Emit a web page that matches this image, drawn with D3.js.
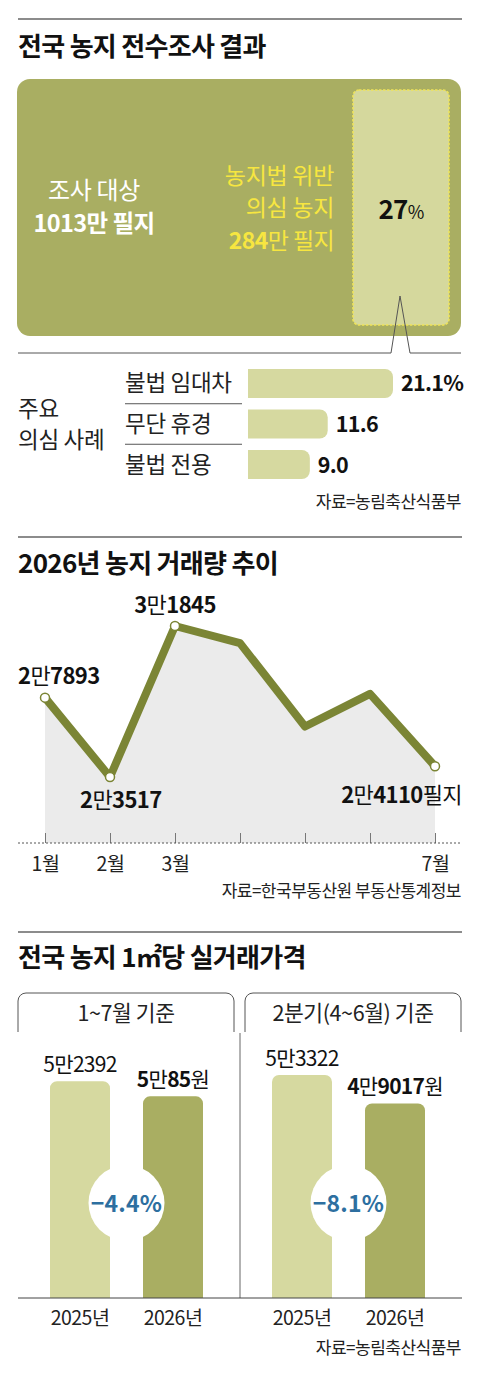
<!DOCTYPE html>
<html>
<head>
<meta charset="utf-8">
<script src="https://cdn.jsdelivr.net/npm/d3@7"></script>
<style>
  body { margin: 0; background: #fff; }
  svg { display: block; font-family: "Noto Sans CJK KR", "Noto Sans", sans-serif; }
  .title { font-size: 26px; font-weight: 700; fill: #111; letter-spacing: -0.7px; }
  .source { font-size: 17px; fill: #222; letter-spacing: -0.5px; }
  .axis text { font-family: "Noto Sans CJK KR", sans-serif; fill: #222; }
</style>
</head>
<body>
<div id="chart"></div>
<script>
// survey summary
const surveyTotal = 1013;      // 만 필지
const suspectTotal = 284;      // 만 필지
const suspectShare = 27;       // %

// main suspected cases (%)
const caseLabels = ["불법 임대차", "무단 휴경", "불법 전용"];
const caseValues = [21.1, 11.6, 9.0];

// 2026 monthly transactions (필지)
const months = ["1월", "2월", "3월", "4월", "5월", "6월", "7월"];
const volumes = [27893, 23517, 31845, 30900, 26300, 28100, 24110];
const labeledMonths = ["1월", "2월", "3월", "7월"];

// price per m2 (원)
const panelTitles = ["1~7월 기준", "2분기(4~6월) 기준"];
const years = ["2025년", "2026년"];
const prices = [[52392, 50085], [53322, 49017]];

const W = 480, H = 1376;
const left = 18, right = 462;
const olive = "#a9ae62", lightOlive = "#d6d9a0", lineColor = "#7b8535";

const svg = d3.select("#chart").append("svg")
    .attr("width", W)
    .attr("height", H);

function rule(y) {
    svg.append("line")
        .attr("x1", left).attr("x2", right)
        .attr("y1", y).attr("y2", y)
        .attr("stroke", "#666").attr("stroke-width", 1.5);
}

// split 27893 -> ["2", "7893"]
function man(v) {
    return [String(Math.floor(v / 10000)), String(v % 10000)];
}

function richText(g, parts) {
    // parts: [[text, bold], ...]
    parts.forEach(p => {
        g.append("tspan")
            .attr("font-weight", p[1] ? 700 : 400)
            .text(p[0]);
    });
    return g;
}

// ================= SECTION 1 =================
rule(19);
svg.append("text").attr("class", "title")
    .attr("x", left).attr("y", 56)
    .text("전국 농지 전수조사 결과");

// big box
svg.append("rect")
    .attr("x", 17).attr("y", 79)
    .attr("width", 444).attr("height", 257)
    .attr("rx", 13)
    .attr("fill", olive);

svg.append("rect")
    .attr("x", 353).attr("y", 90)
    .attr("width", 96).attr("height", 235)
    .attr("rx", 6)
    .attr("fill", "#d5d89d")
    .attr("stroke", "#efe45a")
    .attr("stroke-width", 1.6)
    .attr("stroke-dasharray", "2.5,1.5");

svg.append("text")
    .attr("x", 94).attr("y", 199)
    .attr("text-anchor", "middle")
    .attr("fill", "#fff").attr("font-size", 24)
    .attr("letter-spacing", -0.3)
    .text("조사 대상");
svg.append("text")
    .attr("x", 94).attr("y", 232)
    .attr("text-anchor", "middle")
    .attr("fill", "#fff").attr("font-size", 23.5).attr("font-weight", 700)
    .attr("letter-spacing", -0.6)
    .text(surveyTotal + "만 필지");

const yellow = "#f7e640";
svg.append("text")
    .attr("x", 334).attr("y", 184)
    .attr("text-anchor", "end")
    .attr("fill", yellow).attr("font-size", 23)
    .attr("letter-spacing", -0.3)
    .text("농지법 위반");
svg.append("text")
    .attr("x", 334).attr("y", 216)
    .attr("text-anchor", "end")
    .attr("fill", yellow).attr("font-size", 23)
    .attr("letter-spacing", -0.3)
    .text("의심 농지");
richText(svg.append("text")
    .attr("x", 334).attr("y", 249)
    .attr("text-anchor", "end")
    .attr("fill", yellow).attr("font-size", 23)
    .attr("letter-spacing", -0.6),
    [[String(suspectTotal), true], ["만 필지", false]]);

richText(svg.append("text")
    .attr("x", 401).attr("y", 219)
    .attr("text-anchor", "middle")
    .attr("fill", "#111").attr("font-size", 26)
    .attr("letter-spacing", -0.8),
    [[String(suspectShare), true]])
    .append("tspan").attr("font-size", 18).text("%");

// pointer
svg.append("path")
    .attr("d", "M18,353H391L400,296L410,353H461")
    .attr("fill", "none")
    .attr("stroke", "#555")
    .attr("stroke-width", 1);

// case bars
const xCase = d3.scaleLinear()
    .domain([0, d3.max(caseValues)])
    .range([248, 393]);
const yCase = d3.scaleBand()
    .domain(caseLabels)
    .range([369, 479])
    .paddingInner(0.284);

function rightRounded(x, y, w, h, r) {
    return `M${x},${y}H${x + w - r}A${r},${r} 0 0 1 ${x + w},${y + r}V${y + h - r}A${r},${r} 0 0 1 ${x + w - r},${y + h}H${x}Z`;
}

svg.append("g")
    .selectAll("path")
    .data(caseValues)
    .join("path")
    .attr("d", (d, i) => rightRounded(xCase(0), yCase(caseLabels[i]), xCase(d) - xCase(0), yCase.bandwidth(), 8))
    .attr("fill", lightOlive);

svg.append("g")
    .selectAll("text")
    .data(caseLabels)
    .join("text")
    .attr("x", 125)
    .attr("y", d => yCase(d) + yCase.bandwidth() / 2 + 8)
    .attr("font-size", 22.5)
    .attr("letter-spacing", -0.3)
    .attr("fill", "#222")
    .text(d => d);

svg.append("g")
    .selectAll("line")
    .data(caseLabels.slice(0, -1))
    .join("line")
    .attr("x1", 125).attr("x2", 242)
    .attr("y1", d => yCase(d) + yCase.bandwidth() + yCase.step() * 0.142)
    .attr("y2", d => yCase(d) + yCase.bandwidth() + yCase.step() * 0.142)
    .attr("stroke", "#555");

svg.append("g")
    .selectAll("text")
    .data(caseValues)
    .join("text")
    .attr("x", d => xCase(d) + 8)
    .attr("y", (d, i) => yCase(caseLabels[i]) + yCase.bandwidth() / 2 + 8)
    .attr("font-size", 21.5)
    .attr("font-weight", 700)
    .attr("fill", "#111")
    .attr("letter-spacing", -0.7)
    .text((d, i) => d3.format(".1f")(d) + (i === 0 ? "%" : ""));

svg.append("text")
    .attr("x", left).attr("y", 417)
    .attr("font-size", 22.5).attr("fill", "#222")
    .attr("letter-spacing", -0.3)
    .text("주요");
svg.append("text")
    .attr("x", left).attr("y", 448)
    .attr("font-size", 22.5).attr("fill", "#222")
    .attr("letter-spacing", -0.3)
    .text("의심 사례");

svg.append("text").attr("class", "source")
    .attr("x", 461).attr("y", 508)
    .attr("text-anchor", "end")
    .text("자료=농림축산식품부");

// ================= SECTION 2 =================
rule(537);
svg.append("text").attr("class", "title")
    .attr("x", left).attr("y", 573)
    .text("2026년 농지 거래량 추이");

const x = d3.scalePoint()
    .domain(months)
    .range([45, 435]);
const y = d3.scaleLinear()
    .domain([19877, 31845])
    .range([843, 626]);

svg.append("path")
    .datum(volumes)
    .attr("fill", "#ebebeb")
    .attr("d", d3.area()
        .x((d, i) => x(months[i]))
        .y0(y(19877))
        .y1(d => y(d)));

const xAxis = svg.append("g")
    .attr("class", "axis")
    .attr("transform", "translate(0," + y(19877) + ")")
    .call(d3.axisBottom(x)
        .tickSize(-10)
        .tickPadding(14)
        .tickFormat(d => labeledMonths.includes(d) ? d : ""));
xAxis.select(".domain").remove();
xAxis.selectAll(".tick line").attr("stroke", "#777");
xAxis.selectAll(".tick text").attr("font-size", 19.5).attr("fill", "#222").attr("letter-spacing", -0.4);
xAxis.append("line")
    .attr("x1", left).attr("x2", right)
    .attr("stroke", "#555")
    .attr("stroke-dasharray", "2,2");

svg.append("path")
    .datum(volumes)
    .attr("fill", "none")
    .attr("stroke", lineColor)
    .attr("stroke-width", 8)
    .attr("stroke-linejoin", "round")
    .attr("d", d3.line()
        .x((d, i) => x(months[i]))
        .y(d => y(d)));

const labelIdx = labeledMonths.map(m => months.indexOf(m));
svg.append("g")
    .selectAll("circle")
    .data(labelIdx)
    .join("circle")
    .attr("cx", i => x(months[i]))
    .attr("cy", i => y(volumes[i]))
    .attr("r", 4.5)
    .attr("fill", "#fff")
    .attr("stroke", lineColor)
    .attr("stroke-width", 1.5);

// point labels: [index, dx, dy, anchor, suffix]
const pointLabels = [
    [0, -27, -14, "start", ""],
    [1, -30, 31, "start", ""],
    [2, 0, -13, "middle", ""],
    [6, 27, 37, "end", "필지"]
];
svg.append("g")
    .selectAll("text")
    .data(pointLabels)
    .join("text")
    .attr("x", d => x(months[d[0]]) + d[1])
    .attr("y", d => y(volumes[d[0]]) + d[2])
    .attr("text-anchor", d => d[3])
    .attr("font-size", 22)
    .attr("fill", "#111")
    .attr("letter-spacing", -0.6)
    .each(function (d) {
        const p = man(volumes[d[0]]);
        richText(d3.select(this), [[p[0], true], ["만", false], [p[1], true], [d[4], false]]);
    });

svg.append("text").attr("class", "source")
    .attr("x", 461).attr("y", 897)
    .attr("text-anchor", "end")
    .text("자료=한국부동산원 부동산통계정보");

// ================= SECTION 3 =================
rule(932);
svg.append("text").attr("class", "title")
    .attr("x", left).attr("y", 967)
    .text("전국 농지 1㎡당 실거래가격");

const baseY = 1298;
const yPrice = d3.scaleLinear()
    .domain([19500, 53322])
    .range([baseY, 1075]);

const panels = [
    { x0: 18, x1: 234, bars: [50, 203] },
    { x0: 245, x1: 461, bars: [272, 425] }
];

function topRounded(x, y, w, h, r) {
    return `M${x},${y + h}V${y + r}A${r},${r} 0 0 1 ${x + r},${y}H${x + w - r}A${r},${r} 0 0 1 ${x + w},${y + r}V${y + h}Z`;
}

panels.forEach((p, pi) => {
    const r = 8;
    svg.append("path")
        .attr("d", `M${p.x0},1032V${993 + r}A${r},${r} 0 0 1 ${p.x0 + r},993H${p.x1 - r}A${r},${r} 0 0 1 ${p.x1},${993 + r}V1032`)
        .attr("fill", "none")
        .attr("stroke", "#555");
    svg.append("text")
        .attr("x", (p.x0 + p.x1) / 2).attr("y", 1021)
        .attr("text-anchor", "middle")
        .attr("font-size", 21.5).attr("fill", "#222")
        .attr("letter-spacing", -0.4)
        .text(panelTitles[pi]);

    const xb = d3.scaleBand()
        .domain(years)
        .range(p.bars)
        .paddingInner(0.355);

    const g = svg.append("g");
    g.selectAll("path")
        .data(prices[pi])
        .join("path")
        .attr("d", (d, i) => topRounded(xb(years[i]), yPrice(d), xb.bandwidth(), baseY - yPrice(d), 7))
        .attr("fill", (d, i) => i === 0 ? lightOlive : olive);

    g.selectAll("text.val")
        .data(prices[pi])
        .join("text")
        .attr("class", "val")
        .attr("x", (d, i) => xb(years[i]) + xb.bandwidth() / 2)
        .attr("y", d => yPrice(d) - 9)
        .attr("text-anchor", "middle")
        .attr("font-size", 21)
        .attr("fill", "#111")
        .attr("letter-spacing", -0.7)
        .each(function (d, i) {
            const s = man(d);
            if (i === 0) richText(d3.select(this), [[s[0], false], ["만", false], [s[1], false]]);
            else richText(d3.select(this), [[s[0], true], ["만", false], [s[1], true], ["원", false]]);
        });

    // change bubble
    const cx = (xb(years[0]) + xb.bandwidth() + xb(years[1])) / 2;
    const change = (prices[pi][1] - prices[pi][0]) / prices[pi][0] * 100;
    g.append("circle")
        .attr("cx", cx).attr("cy", 1203)
        .attr("r", 38)
        .attr("fill", "#fff");
    g.append("text")
        .attr("x", cx).attr("y", 1212)
        .attr("text-anchor", "middle")
        .attr("font-size", 23)
        .attr("font-weight", 700)
        .attr("fill", "#2d6fa0")
        .attr("letter-spacing", 0.2)
        .text(d3.format(".1f")(change) + "%");

    const ax = svg.append("g")
        .attr("class", "axis")
        .attr("transform", "translate(0," + baseY + ")")
        .call(d3.axisBottom(xb).tickSize(0).tickPadding(13.5));
    ax.select(".domain").remove();
    ax.selectAll(".tick text").attr("font-size", 19.5).attr("fill", "#222").attr("letter-spacing", -0.5);
});

svg.append("line")
    .attr("x1", 240).attr("x2", 240)
    .attr("y1", 1033).attr("y2", baseY)
    .attr("stroke", "#666");
svg.append("line")
    .attr("x1", left).attr("x2", right)
    .attr("y1", baseY).attr("y2", baseY)
    .attr("stroke", "#444");

svg.append("text").attr("class", "source")
    .attr("x", 461).attr("y", 1354)
    .attr("text-anchor", "end")
    .text("자료=농림축산식품부");
</script>
</body>
</html>
